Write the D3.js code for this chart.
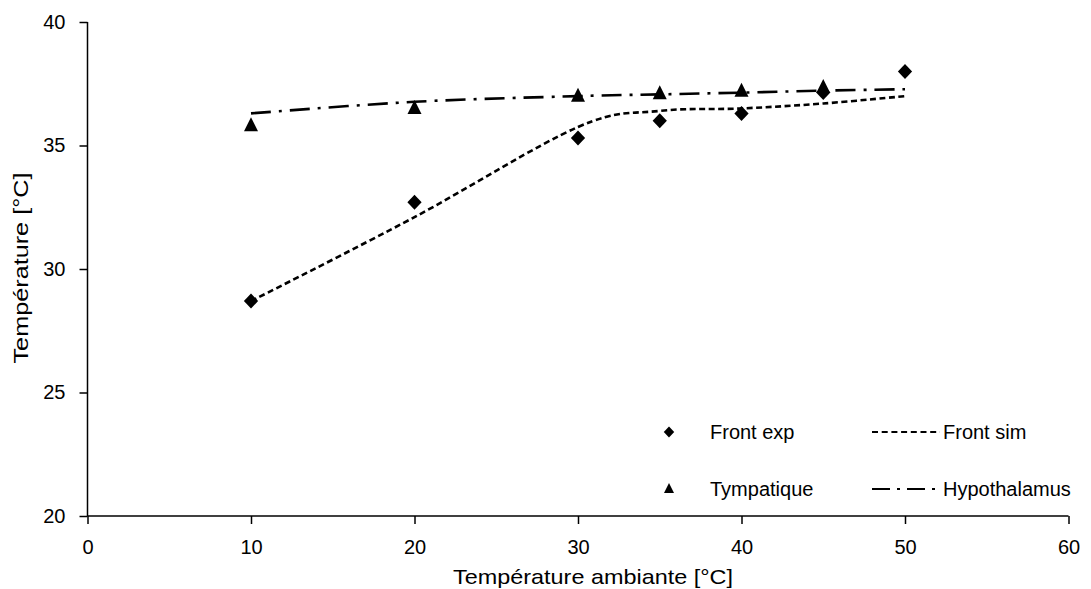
<!DOCTYPE html>
<html>
<head>
<meta charset="utf-8">
<script src="https://cdn.jsdelivr.net/npm/d3@7"></script>
<style>
  html, body { margin: 0; padding: 0; background: #fff; }
  svg { display: block; }
  text { font-family: "Liberation Sans", Arial, sans-serif; fill: #000; }
</style>
</head>
<body>
<svg id="chart" width="1091" height="589"></svg>
<script>
// Ambient temperature (°C) for each measurement
const ambient = [10, 20, 30, 35, 40, 45, 50];
// Measured forehead temperature
const frontExp = [28.7, 32.7, 35.3, 36.0, 36.3, 37.15, 38.0];
// Measured tympanic temperature
const tympatique = [35.8, 36.5, 37.0, 37.1, 37.2, 37.35];
const tympAmbient = [10, 20, 30, 35, 40, 45];
// Simulated forehead temperature
const frontSim = [28.7, 32.1, 35.75, 36.4, 36.5, 36.7, 37.0];
// Simulated hypothalamus temperature
const hypothalamus = [36.3, 36.77, 37.0, 37.07, 37.14, 37.22, 37.28];

const xTicks = [0, 10, 20, 30, 40, 50, 60];
const yTicks = [20, 25, 30, 35, 40];

const svg = d3.select("#chart");

const x = d3.scaleLinear().domain([0, 60]).range([87.5, 1068.5]);
const y = d3.scaleLinear().domain([20, 40]).range([516, 22]);

// Axes
const xAxis = d3.axisBottom(x).tickValues(xTicks).tickSize(8).tickPadding(16).tickFormat(d3.format("d"));
const yAxis = d3.axisLeft(y).tickValues(yTicks).tickSize(8).tickPadding(14).tickFormat(d3.format("d"));

const gx = svg.append("g").attr("transform", `translate(0,${y(20)})`).call(xAxis);
const gy = svg.append("g").attr("transform", `translate(${x(0)},0)`).call(yAxis);

[gx, gy].forEach(g => {
  g.select(".domain").attr("stroke", "#000").attr("stroke-width", 1.5);
  g.selectAll(".tick line").attr("stroke", "#000").attr("stroke-width", 1.5);
  g.selectAll(".tick text").style("font-size", "20px").attr("fill", "#000")
    .style("font-family", "'Liberation Sans', Arial, sans-serif");
});
// remove the outer end ticks drawn by the domain path
gx.select(".domain").attr("d", `M${x(0)},0H${x(60)}`);
gy.select(".domain").attr("d", `M0,${y(20)}V${y(40)}`);

// Axis titles
svg.append("text")
  .attr("x", 593).attr("y", 584)
  .attr("text-anchor", "middle")
  .style("font-size", "21px")
  .attr("textLength", 280).attr("lengthAdjust", "spacingAndGlyphs")
  .text("Température ambiante [°C]");

svg.append("text")
  .attr("transform", "translate(28,268) rotate(-90)")
  .attr("text-anchor", "middle")
  .style("font-size", "21px")
  .attr("textLength", 191).attr("lengthAdjust", "spacingAndGlyphs")
  .text("Température [°C]");

// Lines
const simLine = d3.line()
  .x((d, i) => x(ambient[i]))
  .y(d => y(d))
  .curve(d3.curveCardinal.tension(0));

svg.append("path")
  .datum(frontSim)
  .attr("d", simLine)
  .attr("fill", "none")
  .attr("stroke", "#000")
  .attr("stroke-width", 2.6)
  .attr("stroke-dasharray", "6,3.5");

svg.append("path")
  .datum(hypothalamus)
  .attr("d", simLine)
  .attr("fill", "none")
  .attr("stroke", "#000")
  .attr("stroke-width", 2.6)
  .attr("stroke-dasharray", "20,8,3,8");

// Markers
function diamondPath(r) {
  return `M0,${-r}L${r * 0.95},0L0,${r}L${-r * 0.95},0Z`;
}
function trianglePath(s) {
  const h = s;
  return `M0,${-h * 0.6}L${s / 2},${h * 0.4}L${-s / 2},${h * 0.4}Z`;
}

svg.append("g").selectAll("path")
  .data(frontExp)
  .join("path")
  .attr("transform", (d, i) => `translate(${x(ambient[i])},${y(d)})`)
  .attr("d", diamondPath(7.5))
  .attr("fill", "#000");

svg.append("g").selectAll("path")
  .data(tympatique)
  .join("path")
  .attr("transform", (d, i) => `translate(${x(tympAmbient[i])},${y(d)})`)
  .attr("d", trianglePath(14))
  .attr("fill", "#000");

// Legend
const legend = svg.append("g");
legend.append("path").attr("transform", "translate(669,432)").attr("d", diamondPath(5.5)).attr("fill", "#000");
legend.append("text").attr("x", 710).attr("y", 439).style("font-size", "20px").text("Front exp");

legend.append("path").attr("transform", "translate(669,489)").attr("d", trianglePath(10)).attr("fill", "#000");
legend.append("text").attr("x", 710).attr("y", 496).style("font-size", "20px").text("Tympatique");

legend.append("line").attr("x1", 872).attr("x2", 940).attr("y1", 432).attr("y2", 432)
  .attr("stroke", "#000").attr("stroke-width", 2.2).attr("stroke-dasharray", "6,3.7");
legend.append("text").attr("x", 943).attr("y", 439).style("font-size", "20px").text("Front sim");

legend.append("line").attr("x1", 872).attr("x2", 940).attr("y1", 489).attr("y2", 489)
  .attr("stroke", "#000").attr("stroke-width", 2.2).attr("stroke-dasharray", "18,7,3,7");
legend.append("text").attr("x", 943).attr("y", 496).style("font-size", "20px").text("Hypothalamus");
</script>
</body>
</html>
